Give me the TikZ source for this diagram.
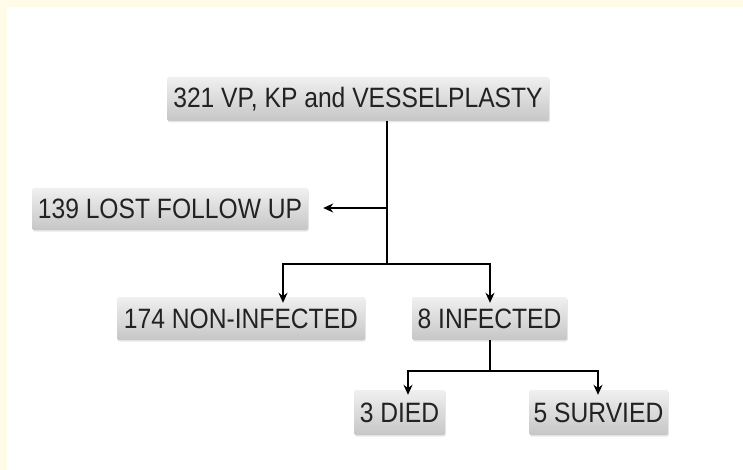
\documentclass[tikz,border=0pt]{standalone}
\usepackage{fontspec}
\setmainfont[FakeStretch=0.88]{Liberation Sans}
\usetikzlibrary{arrows.meta,shadows}
\definecolor{framecol}{HTML}{FFFBE6}
\definecolor{txt}{HTML}{222222}
\definecolor{boxtop}{HTML}{F0F0F0}
\definecolor{boxbot}{HTML}{C6C6C6}
\begin{document}
\begin{tikzpicture}[x=1pt,y=-1pt,
  box/.style={rectangle, rounded corners=1.5pt, top color=boxtop, bottom color=boxbot,
    draw=none, text=txt, font=\fontsize{28}{30}\selectfont, inner sep=0pt,
    drop shadow={opacity=0.18, shadow xshift=0.8pt, shadow yshift=-1.5pt}},
  conn/.style={line width=1.8pt, black},
  arr/.style={conn, -{Stealth[length=10pt,width=9pt]}}]
\useasboundingbox (0,0) rectangle (743,470);
\fill[white] (0,0) rectangle (743,470);
\fill[framecol] (0,0) rectangle (743,7);
\fill[framecol] (0,0) rectangle (7,470);

\node[box, minimum width=382pt, minimum height=44pt] (top) at (358,99) {321 VP, KP and VESSELPLASTY};
\node[box, minimum width=276pt, minimum height=42pt] (lost) at (170,209) {139 LOST FOLLOW UP};
\node[box, minimum width=248pt, minimum height=43pt] (non) at (241,318.5) {174 NON-INFECTED};
\node[box, minimum width=155pt, minimum height=43pt] (inf) at (489.5,318.5) {8 INFECTED};
\node[box, minimum width=91pt, minimum height=45pt] (died) at (399.5,412.5) {3 DIED};
\node[box, minimum width=139pt, minimum height=45pt] (surv) at (598.5,412.5) {5 SURVIED};

\coordinate (j1) at (387,208);
\coordinate (j2) at (387,264);
\coordinate (b1) at (283,264);
\coordinate (b2) at (490,264);
\coordinate (k) at (490,371);
\coordinate (c1) at (408,371);
\coordinate (c2) at (598,371);

\draw[conn] (top.south -| j1) -- (j2);
\draw[arr, shorten >=15pt] (j1) -- (lost.east |- j1);
\draw[arr, shorten >=-6pt] (j2) -| (b1 |- non.north);
\draw[arr, shorten >=-6pt] (j2) -| (b2 |- inf.north);
\draw[conn] (inf.south -| k) -- (k);
\draw[arr, shorten >=-5pt] (k) -| (c1 |- died.north);
\draw[arr, shorten >=-5pt] (k) -| (c2 |- surv.north);
\end{tikzpicture}
\end{document}
